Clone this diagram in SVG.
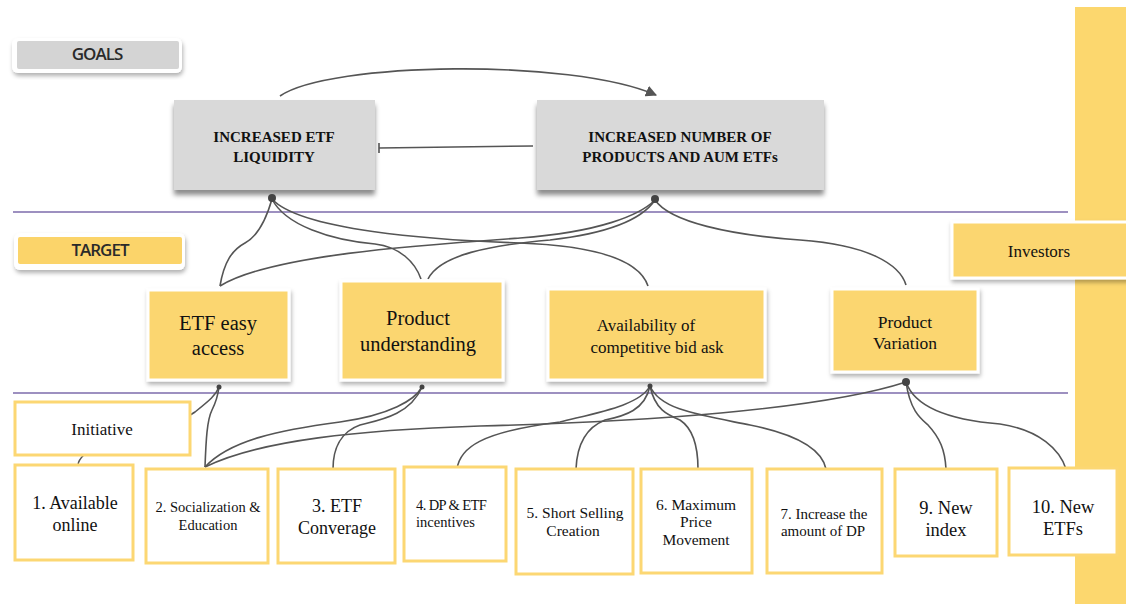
<svg xmlns="http://www.w3.org/2000/svg" width="1126" height="604" viewBox="0 0 1126 604">
<defs>
<style>
.lbl{font-family:"Open Sans","DejaVu Sans",sans-serif;font-size:17px;font-weight:600;fill:#2a2a2a;text-anchor:middle;letter-spacing:-1px}
.gt{font-family:"Liberation Serif","Times New Roman",serif;font-weight:bold;font-size:15px;fill:#111;text-anchor:middle}
.tt{font-family:"Liberation Serif","Times New Roman",serif;fill:#111;text-anchor:middle}
.st{text-anchor:start}
.goal{fill:#d9d9d9;filter:url(#sh)}
.tgt{fill:#fbd670;stroke:#fff;stroke-width:3;filter:url(#sh2)}
.ini{fill:#fff;stroke:#fcd773;stroke-width:3}
.sep{stroke:#9d90c0;stroke-width:2;fill:none}
.cn{fill:none;stroke:#555;stroke-width:1.6}
.dot{fill:#444}
</style>
<filter id="sh" x="-10%" y="-10%" width="120%" height="130%">
<feDropShadow dx="0" dy="5" stdDeviation="2.5" flood-color="#000" flood-opacity="0.45"/>
</filter>
<filter id="sh2" x="-10%" y="-10%" width="120%" height="130%">
<feDropShadow dx="1" dy="3" stdDeviation="2" flood-color="#000" flood-opacity="0.3"/>
</filter>
<marker id="arr" viewBox="0 0 10 10" refX="9" refY="5" markerWidth="7" markerHeight="7" orient="auto">
<path d="M0,0 L10,5 L0,10 z" fill="#555"/>
</marker>
</defs>
<rect width="1126" height="604" fill="#fff"/>
<rect x="1075" y="7" width="51" height="597" fill="#fcd76e"/>
<line class="sep" x1="13" y1="212" x2="1068" y2="212"/>
<line class="sep" x1="13" y1="393" x2="1068" y2="393"/>

<g id="label-goals">
<rect x="12" y="38" width="170" height="35" rx="6" fill="#fff" filter="url(#sh2)"/>
<rect x="17" y="41" width="162" height="28" rx="2" fill="#d4d4d4"/>
<text class="lbl" x="97" y="60">GOALS</text>
</g>
<g id="label-target">
<rect x="14" y="233" width="171" height="37" rx="6" fill="#fff" filter="url(#sh2)"/>
<rect x="18" y="237" width="164" height="27" rx="2" fill="#fbd46a"/>
<text class="lbl" x="100" y="256">TARGET</text>
</g>

<g id="connectors">
<path class="cn" d="M280,96 C330,62 570,58 656,95" marker-end="url(#arr)"/>
<path class="cn" d="M533,146 L379,148 M379,143 L379,153"/>
<path class="cn" d="M220,286 C224,262 232,250 245,243 C258,236 266,220 272,199"/>
<path class="cn" d="M220,286 C270,255 420,245 520,238 C600,232 640,215 655,200"/>
<path class="cn" d="M272,199 C285,225 330,240 375,244 C400,247 415,262 421,279"/>
<path class="cn" d="M272,199 C300,230 430,240 520,243 C600,246 640,262 648,286"/>
<path class="cn" d="M428,279 C440,255 490,245 550,240 C620,232 645,215 655,200"/>
<path class="cn" d="M655,200 C670,222 730,235 800,240 C870,245 900,265 906,285"/>
<path class="cn" d="M78,465 C80,440 170,430 195,412 C210,400 216,395 219,387"/>
<path class="cn" d="M205,467 C206,440 207,420 212,410 C216,402 218,395 219,387"/>
<path class="cn" d="M205,467 C230,440 280,430 340,422 C390,415 415,400 422,387"/>
<path class="cn" d="M205,467 C260,440 360,430 480,426 C640,422 820,410 906,382"/>
<path class="cn" d="M422,387 C410,415 380,420 360,425 C340,432 333,450 333,469"/>
<path class="cn" d="M650,386 C640,405 600,412 560,422 C480,432 460,448 457,469"/>
<path class="cn" d="M650,386 C645,410 625,416 605,420 C585,428 577,445 576,469"/>
<path class="cn" d="M650,386 C655,410 668,415 680,420 C695,430 698,450 698,469"/>
<path class="cn" d="M650,386 C660,410 700,415 750,425 C800,435 822,450 826,469"/>
<path class="cn" d="M906,382 C910,410 920,418 928,425 C940,438 945,450 946,469"/>
<path class="cn" d="M906,382 C915,408 950,420 1000,424 C1040,430 1060,450 1066,469"/>
</g>

<g id="goal-liquidity">
<rect class="goal" x="174" y="100" width="201" height="90"/>
<text class="gt" x="274" y="142">INCREASED ETF</text>
<text class="gt" x="274" y="162">LIQUIDITY</text>
</g>
<g id="goal-products">
<rect class="goal" x="537" y="100" width="287" height="90"/>
<text class="gt" x="680" y="142">INCREASED NUMBER OF</text>
<text class="gt" x="680" y="162">PRODUCTS AND AUM ETFs</text>
</g>

<g id="t-easy-access">
<rect class="tgt" x="148" y="290" width="141" height="90"/>
<text class="tt" font-size="20.5" x="218" y="330">ETF easy</text>
<text class="tt" font-size="20.5" x="218" y="355">access</text>
</g>
<g id="t-product-understanding">
<rect class="tgt" x="341" y="281" width="162" height="99"/>
<text class="tt" font-size="20.5" x="418" y="325">Product</text>
<text class="tt" font-size="20.5" x="418" y="351">understanding</text>
</g>
<g id="t-availability">
<rect class="tgt" x="548" y="289" width="217" height="91"/>
<text class="tt" font-size="17" x="646" y="331">Availability of</text>
<text class="tt" font-size="17" x="657" y="353">competitive bid ask</text>
</g>
<g id="t-product-variation">
<rect class="tgt" x="832" y="289" width="146" height="83"/>
<text class="tt" font-size="17.5" x="905" y="328">Product</text>
<text class="tt" font-size="17.5" x="905" y="349">Variation</text>
</g>
<g id="t-investors">
<rect class="tgt" x="952" y="222" width="176" height="56"/>
<text class="tt" font-size="17" x="1039" y="257">Investors</text>
</g>

<g id="anchors">
<circle class="dot" cx="272" cy="198" r="4"/>
<circle class="dot" cx="655" cy="199" r="4"/>
<circle class="dot" cx="906" cy="382" r="4"/>
<circle class="dot" cx="219" cy="387" r="2.5"/>
<circle class="dot" cx="422" cy="387" r="2.5"/>
<circle class="dot" cx="650" cy="386" r="2.5"/>
</g>

<g id="initiative">
<rect class="ini" x="15" y="402" width="175" height="53"/>
<text class="tt" font-size="17" x="102" y="435">Initiative</text>
</g>
<g id="i1">
<rect class="ini" x="15" y="465" width="118" height="95"/>
<text class="tt" font-size="18" x="75" y="509">1. Available</text>
<text class="tt" font-size="18" x="75" y="531">online</text>
</g>
<g id="i2">
<rect class="ini" x="146" y="469" width="122" height="94"/>
<text class="tt" font-size="14.5" x="208" y="512">2. Socialization &amp;</text>
<text class="tt" font-size="14.5" x="208" y="530">Education</text>
</g>
<g id="i3">
<rect class="ini" x="278" y="469" width="117" height="94"/>
<text class="tt" font-size="18" x="337" y="512">3. ETF</text>
<text class="tt" font-size="18" x="337" y="534">Converage</text>
</g>
<g id="i4">
<rect class="ini" x="404" y="467" width="102" height="94"/>
<text class="tt st" font-size="14.5" x="416" y="510" letter-spacing="-0.6">4. DP &amp; ETF</text>
<text class="tt st" font-size="14.5" x="416" y="527">incentives</text>
</g>
<g id="i5">
<rect class="ini" x="516" y="469" width="117" height="105"/>
<text class="tt" font-size="15.5" x="575" y="518">5. Short Selling</text>
<text class="tt" font-size="15.5" x="573" y="536">Creation</text>
</g>
<g id="i6">
<rect class="ini" x="641" y="469" width="111" height="104"/>
<text class="tt" font-size="15.5" x="696" y="510">6. Maximum</text>
<text class="tt" font-size="15.5" x="696" y="527">Price</text>
<text class="tt" font-size="15.5" x="696" y="545">Movement</text>
</g>
<g id="i7">
<rect class="ini" x="767" y="469" width="115" height="104"/>
<text class="tt" font-size="15" x="824" y="519">7. Increase the</text>
<text class="tt" font-size="15" x="823" y="536">amount of DP</text>
</g>
<g id="i9">
<rect class="ini" x="895" y="469" width="102" height="87"/>
<text class="tt" font-size="18.5" x="946" y="514">9. New</text>
<text class="tt" font-size="18.5" x="946" y="536">index</text>
</g>
<g id="i10">
<rect class="ini" x="1009" y="468" width="108" height="87"/>
<text class="tt" font-size="18.5" x="1063" y="513">10. New</text>
<text class="tt" font-size="18.5" x="1063" y="535">ETFs</text>
</g>
</svg>
